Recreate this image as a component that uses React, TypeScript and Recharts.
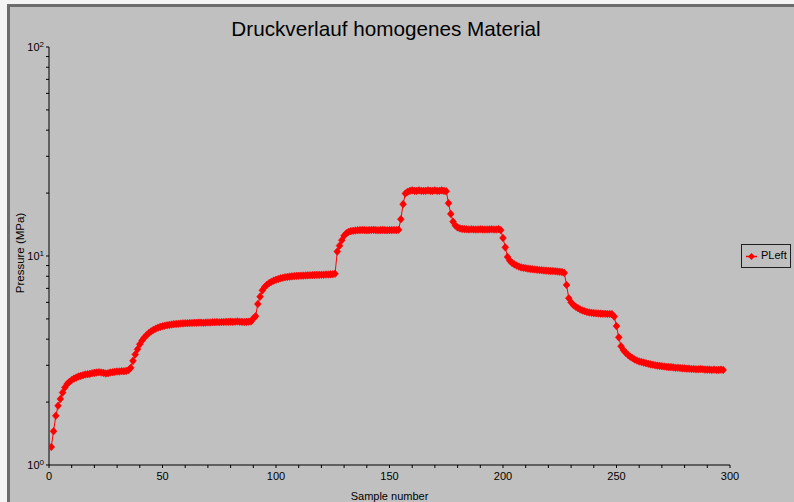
import React from "react";
import { LineChart, Line, XAxis, YAxis, Legend } from "recharts";

// Sample numbers (categories)
const samples: number[] = Array.from({ length: 297 }, (_, i) => i + 1);

// Pressure values in MPa (samples 1..297)
const pLeft: number[] = [
  // 1-36
  1.22, 1.45, 1.72, 1.92, 2.07, 2.22, 2.35, 2.44, 2.5, 2.55,
  2.59, 2.62, 2.65, 2.67, 2.69, 2.71, 2.72, 2.73, 2.75, 2.76,
  2.77, 2.78, 2.77, 2.76, 2.74, 2.75, 2.77, 2.78, 2.79, 2.8,
  2.8, 2.81, 2.81, 2.82, 2.84, 2.92,
  // 37-60
  3.15, 3.38, 3.58, 3.78, 3.94, 4.07, 4.18, 4.28, 4.36, 4.43,
  4.49, 4.54, 4.58, 4.61, 4.64, 4.66, 4.68, 4.7, 4.72, 4.73,
  4.74, 4.75, 4.76, 4.77,
  // 61-89
  4.77, 4.78, 4.78, 4.79, 4.79, 4.8, 4.8, 4.79, 4.8, 4.81,
  4.81, 4.82, 4.82, 4.83, 4.82, 4.83, 4.83, 4.84, 4.84, 4.85,
  4.84, 4.85, 4.86, 4.85, 4.84, 4.83, 4.84, 4.85, 4.86,
  // 90-126
  5.02, 5.15, 5.89, 6.39, 6.85, 7.1, 7.28, 7.42, 7.53, 7.62,
  7.7, 7.76, 7.82, 7.87, 7.91, 7.94, 7.97, 7.99, 8.01, 8.03,
  8.04, 8.05, 8.06, 8.07, 8.08, 8.09, 8.1, 8.11, 8.12, 8.12,
  8.13, 8.14, 8.15, 8.16, 8.17, 8.18, 8.22,
  // 127-154
  10.5, 11.2, 11.9, 12.5, 12.85, 13.05, 13.15, 13.2, 13.25, 13.28,
  13.3, 13.32, 13.3, 13.28, 13.3, 13.32, 13.34, 13.3, 13.28, 13.3,
  13.32, 13.3, 13.28, 13.3, 13.3, 13.32, 13.3, 13.35,
  // 155-175
  15.0, 17.7, 19.9, 20.3, 20.5, 20.6, 20.5, 20.5, 20.6, 20.5,
  20.5, 20.5, 20.6, 20.5, 20.5, 20.6, 20.5, 20.5, 20.6, 20.5,
  20.4,
  // 176-198
  17.9, 15.9, 14.6, 14.0, 13.7, 13.55, 13.48, 13.44, 13.42, 13.4,
  13.42, 13.4, 13.38, 13.4, 13.42, 13.4, 13.38, 13.4, 13.4, 13.42,
  13.4, 13.38, 13.45,
  // 199-227
  13.3, 12.2, 11.0, 9.9, 9.5, 9.27, 9.12, 9.0, 8.9, 8.82,
  8.78, 8.74, 8.7, 8.67, 8.64, 8.62, 8.6, 8.57, 8.55, 8.53,
  8.51, 8.5, 8.48, 8.47, 8.45, 8.43, 8.41, 8.38, 8.3,
  // 228-249
  7.27, 6.28, 6.0, 5.83, 5.72, 5.63, 5.55, 5.49, 5.44, 5.4,
  5.37, 5.35, 5.33, 5.32, 5.31, 5.3, 5.29, 5.29, 5.28, 5.28,
  5.27, 5.13,
  // 250-297
  4.62, 4.08, 3.7, 3.55, 3.45, 3.37, 3.3, 3.25, 3.2, 3.16,
  3.13, 3.11, 3.09, 3.07, 3.05, 3.03, 3.02, 3.0, 2.99, 2.98,
  2.97, 2.96, 2.95, 2.94, 2.94, 2.93, 2.92, 2.92, 2.91, 2.9,
  2.9, 2.89, 2.89, 2.88, 2.88, 2.87, 2.87, 2.88, 2.87, 2.86,
  2.86, 2.86, 2.85, 2.86, 2.85, 2.85, 2.86, 2.85,
];

const xTicks: number[] = [
  0, 10, 20, 30, 40, 50, 60, 70, 80, 90, 100, 110, 120, 130, 140, 150,
  160, 170, 180, 190, 200, 210, 220, 230, 240, 250, 260, 270, 280, 290, 300,
];
const xLabelTicks: number[] = [0, 50, 100, 150, 200, 250, 300];
const yTicks: number[] = [
  1, 2, 3, 4, 5, 6, 7, 8, 9, 10, 20, 30, 40, 50, 60, 70, 80, 90, 100,
];
const yLabelTicks: number[] = [1, 10, 100];

const title = "Druckverlauf homogenes Material";
const xTitle = "Sample number";
const yTitle = "Pressure (MPa)";
const seriesName = "PLeft";

const data = samples.map((s, i) => ({ sample: s, p: pLeft[i] }));

const FONT = "'Liberation Sans', Arial, sans-serif";
const RED = "#ff0000";

const XTick = (props: any) => {
  const { x, y, payload } = props;
  if (!xLabelTicks.includes(payload.value)) return <g />;
  return (
    <text x={x} y={y + 11.5} textAnchor="middle" fontSize={11} fontFamily={FONT} fill="#000" stroke="none">
      {payload.value}
    </text>
  );
};

const YTick = (props: any) => {
  const { x, y, payload } = props;
  const v = payload.value;
  if (!yLabelTicks.includes(v)) return <g />;
  const exp = Math.round(Math.log10(v));
  return (
    <text x={x} y={y + 4} textAnchor="end" fontSize={11} fontFamily={FONT} fill="#000" stroke="none">
      <tspan>10</tspan>
      <tspan dy={-4.5} fontSize={8}>{exp}</tspan>
    </text>
  );
};

const Diamond = (props: any) => {
  const { cx, cy } = props;
  if (cx == null || cy == null) return <g />;
  return (
    <g>
      <polygon
        points={`${cx},${cy - 3.8} ${cx + 3.4},${cy} ${cx},${cy + 3.8} ${cx - 3.4},${cy}`}
        fill={RED}
        stroke={RED}
        strokeWidth={0.6}
      />
      <rect x={cx - 1.8} y={cy - 1.8} width={3.6} height={3.6} fill={RED} />
    </g>
  );
};

const LegendBox = () => (
  <div
    style={{
      width: 50,
      height: 24,
      border: "1px solid #202020",
      boxSizing: "border-box",
      position: "relative",
      fontFamily: FONT,
      fontSize: 11,
      color: "#000",
    }}
  >
    <svg width={14} height={22} style={{ position: "absolute", left: 3, top: 0 }}>
      <line x1={1} y1={11.5} x2={12} y2={11.5} stroke={RED} strokeWidth={1.5} />
      <polygon points="6.5,8 9.9,11.5 6.5,15 3.1,11.5" fill={RED} />
    </svg>
    <span style={{ position: "absolute", left: 19, top: 4, lineHeight: "13px" }}>{seriesName}</span>
  </div>
);

export default function App() {
  return (
    <div
      style={{
        position: "absolute",
        left: 0,
        top: 0,
        width: 794,
        height: 502,
        background: "#f4f4f4",
        overflow: "hidden",
      }}
    >
      <div
        style={{
          position: "absolute",
          left: 7,
          top: 4,
          width: 794 - 7,
          height: 502 - 4,
          background: "#c0c0c0",
          borderLeft: "3px solid #6c6c6c",
          borderTop: "3px solid #6c6c6c",
          boxSizing: "border-box",
        }}
      />
      <div style={{ position: "absolute", left: 0, top: 0 }}>
        <LineChart
          width={794}
          height={502}
          data={data}
          margin={{ top: 47, right: 64, bottom: 27, left: 39 }}
        >
          <XAxis
            dataKey="sample"
            type="number"
            domain={[0, 300]}
            ticks={xTicks}
            interval={0}
            height={10}
            tickSize={3}
            tickMargin={0}
            tick={<XTick />}
            axisLine={{ stroke: "#000", strokeWidth: 1 }}
            tickLine={{ stroke: "#000", strokeWidth: 1 }}
            allowDataOverflow
          />
          <YAxis
            type="number"
            scale="log"
            domain={[1, 100]}
            ticks={yTicks}
            interval={0}
            width={10}
            tickSize={3}
            tickMargin={2}
            tick={<YTick />}
            axisLine={{ stroke: "#000", strokeWidth: 1 }}
            tickLine={{ stroke: "#000", strokeWidth: 1 }}
            allowDataOverflow
          />
          <Legend
            layout="vertical"
            align="center"
            verticalAlign="middle"
            wrapperStyle={{ left: 741, top: 244, width: 50, height: 24 }}
            content={<LegendBox />}
          />
          <Line
            type="linear"
            dataKey="p"
            name={seriesName}
            stroke={RED}
            strokeWidth={1}
            dot={(p: any) => <Diamond key={`d-${p.index}`} {...p} />}
            activeDot={false}
            isAnimationActive={false}
          />
        </LineChart>
      </div>
      <svg
        width={794}
        height={502}
        style={{ position: "absolute", left: 0, top: 0, pointerEvents: "none" }}
      >
        <text x={386} y={36} textAnchor="middle" fontSize={20.7} fontFamily={FONT} fill="#000">
          {title}
        </text>
        <text x={389.5} y={499.5} textAnchor="middle" fontSize={11} fontFamily={FONT} fill="#000">
          {xTitle}
        </text>
        <text
          x={24}
          y={253}
          textAnchor="middle"
          fontSize={11.5}
          fontFamily={FONT}
          fill="#000"
          transform="rotate(-90, 24, 253)"
        >
          {yTitle}
        </text>
      </svg>
    </div>
  );
}
